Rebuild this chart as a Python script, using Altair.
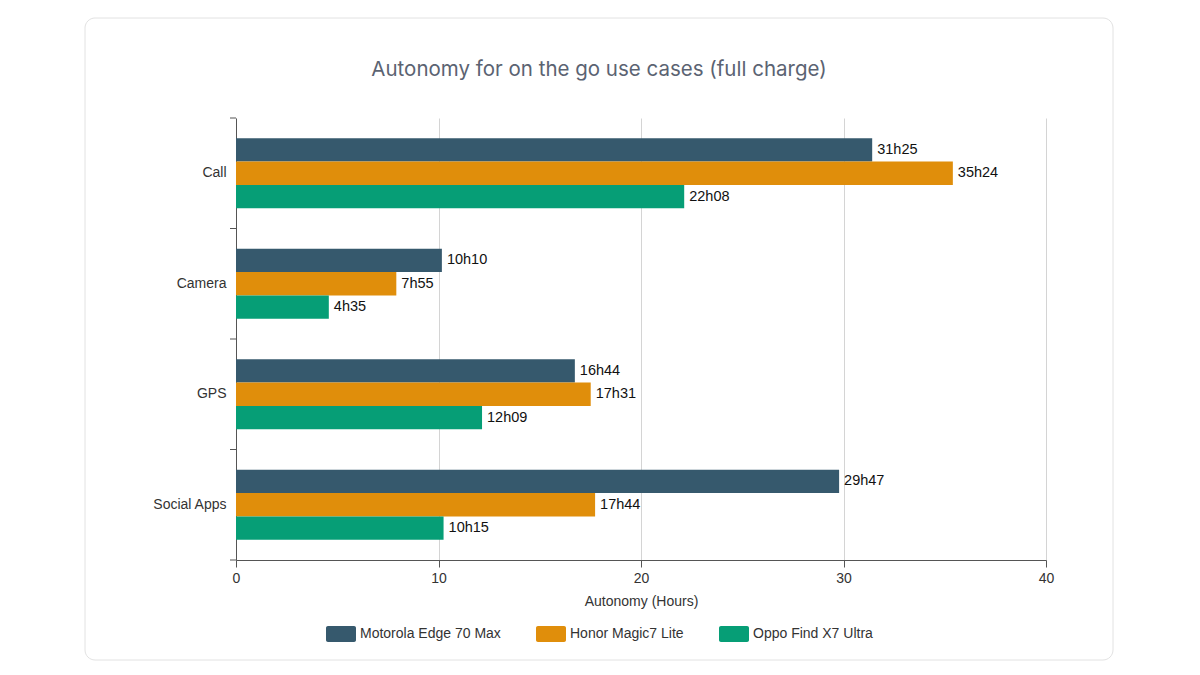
import altair as alt
import pandas as pd

categories = ["Call", "Camera", "GPS", "Social Apps"]
devices = ["Motorola Edge 70 Max", "Honor Magic7 Lite", "Oppo Find X7 Ultra"]
motorola_labels = ["31h25", "10h10", "16h44", "29h47"]
honor_labels = ["35h24", "7h55", "17h31", "17h44"]
oppo_labels = ["22h08", "4h35", "12h09", "10h15"]
colors = ["#36596d", "#e08e0b", "#069e76"]
x_ticks = [0, 10, 20, 30, 40]


def to_hours(s):
    h, m = s.split("h")
    return int(h) + int(m) / 60


rows = []
for dev, labels in zip(devices, [motorola_labels, honor_labels, oppo_labels]):
    for cat, lab in zip(categories, labels):
        rows.append({"category": cat, "device": dev, "hours": to_hours(lab), "label": lab})
df = pd.DataFrame(rows)

LABEL_FONT = "Liberation Sans"
TEXT_COLOR = "#333333"

y_enc = alt.Y(
    "category:N",
    sort=categories,
    scale=alt.Scale(paddingInner=0, paddingOuter=0),
    axis=alt.Axis(
        title=None, ticks=False, domain=True, domainColor="#555555", labelPadding=10,
        labelFont=LABEL_FONT, labelFontSize=14, labelColor=TEXT_COLOR, grid=False,
    ),
)
yoff_enc = alt.YOffset(
    "device:N", sort=devices, scale=alt.Scale(paddingInner=0, paddingOuter=0.87)
)
x_enc = alt.X(
    "hours:Q",
    scale=alt.Scale(domain=[0, 40], nice=False),
    axis=alt.Axis(
        values=x_ticks, title="Autonomy (Hours)", tickSize=7, tickColor="#555555",
        domainColor="#555555", grid=True, gridColor="#d4d4d4", labelFlush=False,
        labelFont=LABEL_FONT, labelFontSize=14, labelColor=TEXT_COLOR, labelPadding=4,
        titleFont=LABEL_FONT, titleFontSize=14, titleFontWeight="normal",
        titleColor=TEXT_COLOR, titlePadding=9,
    ),
)

legend_path = (
    "M-0.87,-0.53 H0.87 A0.13,0.13 0 0 1 1,-0.4 V0.4 A0.13,0.13 0 0 1 0.87,0.53 "
    "H-0.87 A0.13,0.13 0 0 1 -1,0.4 V-0.4 A0.13,0.13 0 0 1 -0.87,-0.53 Z"
)

bars = alt.Chart(df).mark_bar().encode(
    y=y_enc,
    yOffset=yoff_enc,
    x=x_enc,
    color=alt.Color(
        "device:N",
        sort=devices,
        scale=alt.Scale(domain=devices, range=colors),
        legend=alt.Legend(
            title=None, orient="none", legendX=90, legendY=501, direction="horizontal",
            symbolType=legend_path, symbolSize=900, symbolStrokeWidth=0, symbolOpacity=1,
            labelFont=LABEL_FONT, labelFontSize=14, labelColor=TEXT_COLOR,
            labelOffset=4, columnPadding=35, padding=0,
        ),
    ),
)

texts = alt.Chart(df).mark_text(
    align="left", baseline="middle", dx=5, font=LABEL_FONT, fontSize=14.5, color="#111111"
).encode(
    y=alt.Y("category:N", sort=categories),
    yOffset=alt.YOffset("device:N", sort=devices),
    x=alt.X("hours:Q"),
    text="label:N",
)

tick_df = pd.DataFrame({"category": categories})
yticks = alt.Chart(tick_df).mark_rule(color="#555555", strokeWidth=1).encode(
    y=alt.Y("category:N", sort=categories, bandPosition=0),
    x=alt.value(-6),
    x2=alt.value(0),
)
ytick_last = alt.Chart(pd.DataFrame({"category": categories[-1:]})).mark_rule(
    color="#555555", strokeWidth=1
).encode(
    y=alt.Y("category:N", sort=categories, bandPosition=1),
    x=alt.value(-6),
    x2=alt.value(0),
)

card = alt.Chart(pd.DataFrame({"a": [0]})).mark_rect(
    fill="transparent", stroke="#e2e2e2", strokeWidth=1, cornerRadius=10
).encode(
    x=alt.value(-151), x2=alt.value(877), y=alt.value(-100), y2=alt.value(542)
)

chart = alt.layer(card, bars, texts, yticks, ytick_last).properties(
    width=810,
    height=442,
    autosize="none",
    padding={"left": 236, "top": 118, "right": 154, "bottom": 115},
    background="white",
    title=alt.TitleParams(
        "Autonomy for on the go use cases (full charge)",
        font="Inter", fontSize=20.5, fontWeight="normal", color="#5b6372",
        anchor="middle", dx=-42, offset=-63,
    ),
).configure_view(stroke=None)

chart.save("out.html", embed_options={"renderer": "svg", "actions": False})
